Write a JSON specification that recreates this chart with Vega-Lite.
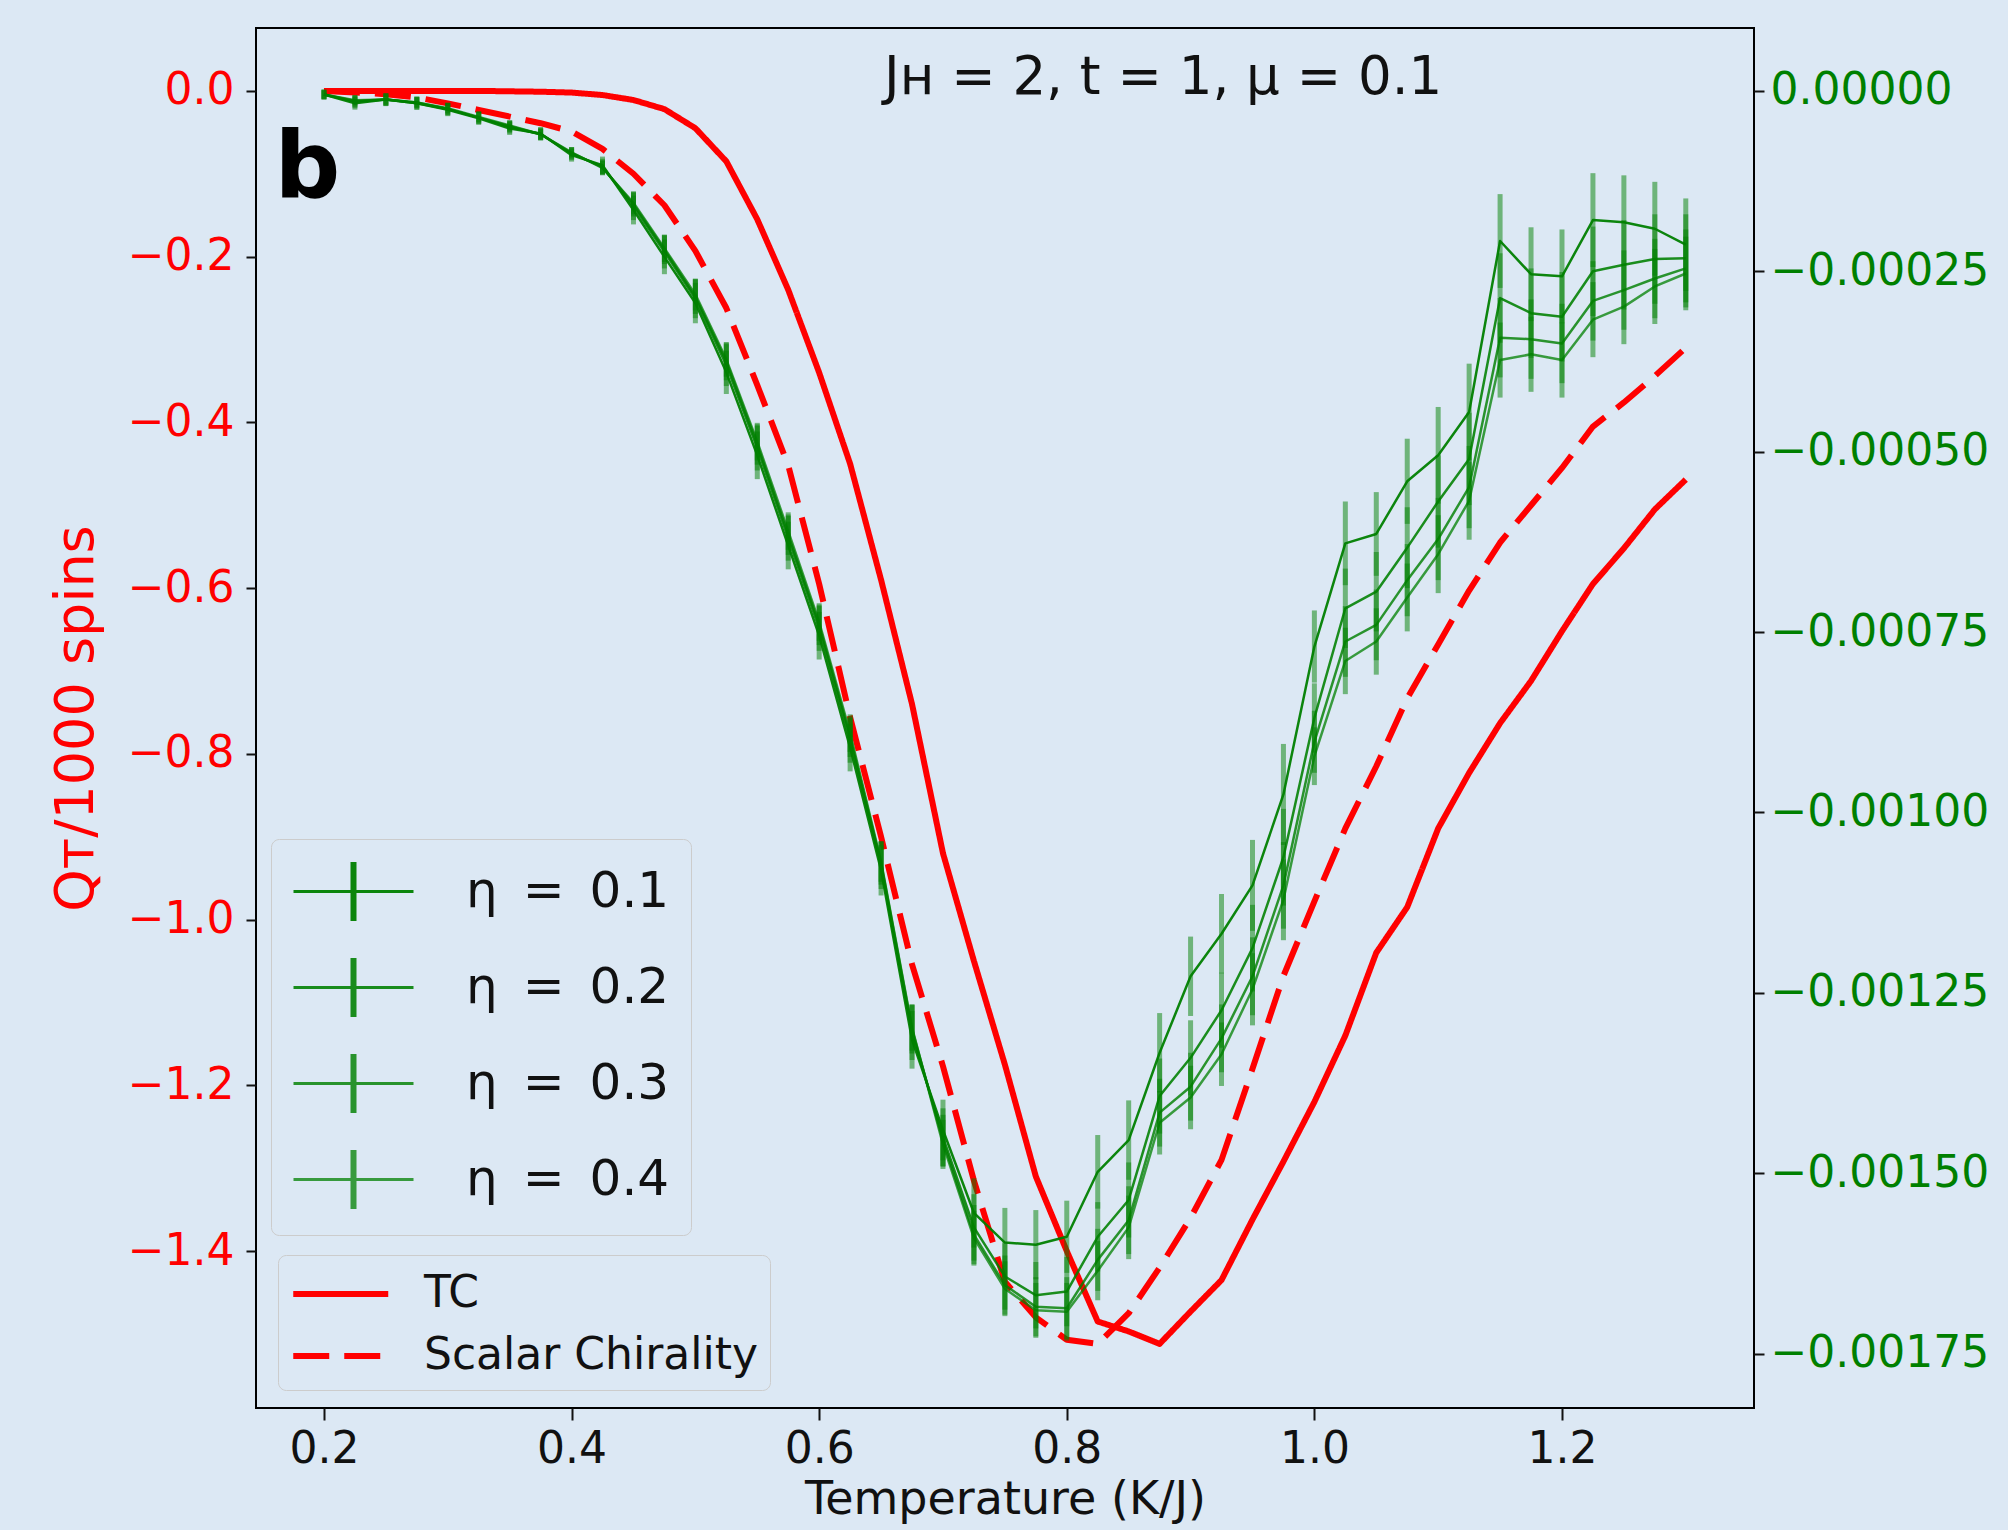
{
  "$schema": "https://vega.github.io/schema/vega-lite/v6.json",
  "width": 1498,
  "height": 1380,
  "autosize": {"type": "none"},
  "padding": {"left": 256, "top": 28, "right": 254, "bottom": 122},
  "background": "#dce8f4",
  "title": {
    "text": "Jʜ = 2, t = 1, μ = 0.1",
    "anchor": "start",
    "frame": "group",
    "dx": 628,
    "offset": -119,
    "baseline": "alphabetic",
    "font": "DejaVu Sans",
    "fontSize": 53,
    "fontWeight": "normal",
    "color": "#111111"
  },
  "datasets": {
    "red": [
      {"T":0.2,"kind":"TC","Q":0},{"T":0.225,"kind":"TC","Q":0},{"T":0.25,"kind":"TC","Q":0},{"T":0.275,"kind":"TC","Q":0},
      {"T":0.3,"kind":"TC","Q":0},{"T":0.325,"kind":"TC","Q":0},{"T":0.35,"kind":"TC","Q":-0.0005},{"T":0.375,"kind":"TC","Q":-0.001},
      {"T":0.4,"kind":"TC","Q":-0.002},{"T":0.425,"kind":"TC","Q":-0.005},{"T":0.45,"kind":"TC","Q":-0.011},{"T":0.475,"kind":"TC","Q":-0.022},
      {"T":0.5,"kind":"TC","Q":-0.045},{"T":0.525,"kind":"TC","Q":-0.085},{"T":0.55,"kind":"TC","Q":-0.155},{"T":0.575,"kind":"TC","Q":-0.24},
      {"T":0.6,"kind":"TC","Q":-0.34},{"T":0.625,"kind":"TC","Q":-0.45},{"T":0.65,"kind":"TC","Q":-0.59},{"T":0.675,"kind":"TC","Q":-0.74},
      {"T":0.7,"kind":"TC","Q":-0.92},{"T":0.725,"kind":"TC","Q":-1.05},{"T":0.75,"kind":"TC","Q":-1.175},{"T":0.775,"kind":"TC","Q":-1.31},
      {"T":0.8,"kind":"TC","Q":-1.4},{"T":0.825,"kind":"TC","Q":-1.485},{"T":0.85,"kind":"TC","Q":-1.497},{"T":0.875,"kind":"TC","Q":-1.512},
      {"T":0.9,"kind":"TC","Q":-1.473},{"T":0.925,"kind":"TC","Q":-1.435},{"T":0.95,"kind":"TC","Q":-1.362},{"T":0.975,"kind":"TC","Q":-1.292},
      {"T":1.0,"kind":"TC","Q":-1.22},{"T":1.025,"kind":"TC","Q":-1.14},{"T":1.05,"kind":"TC","Q":-1.04},{"T":1.075,"kind":"TC","Q":-0.985},
      {"T":1.1,"kind":"TC","Q":-0.89},{"T":1.125,"kind":"TC","Q":-0.823},{"T":1.15,"kind":"TC","Q":-0.763},{"T":1.175,"kind":"TC","Q":-0.712},
      {"T":1.2,"kind":"TC","Q":-0.652},{"T":1.225,"kind":"TC","Q":-0.595},{"T":1.25,"kind":"TC","Q":-0.552},{"T":1.275,"kind":"TC","Q":-0.505},
      {"T":1.3,"kind":"TC","Q":-0.469},
      {"T":0.2,"kind":"Scalar Chirality","Q":0},{"T":0.225,"kind":"Scalar Chirality","Q":-0.002},{"T":0.25,"kind":"Scalar Chirality","Q":-0.004},
      {"T":0.275,"kind":"Scalar Chirality","Q":-0.008},{"T":0.3,"kind":"Scalar Chirality","Q":-0.015},{"T":0.325,"kind":"Scalar Chirality","Q":-0.023},
      {"T":0.35,"kind":"Scalar Chirality","Q":-0.031},{"T":0.375,"kind":"Scalar Chirality","Q":-0.039},{"T":0.4,"kind":"Scalar Chirality","Q":-0.049},
      {"T":0.425,"kind":"Scalar Chirality","Q":-0.07},{"T":0.45,"kind":"Scalar Chirality","Q":-0.1},{"T":0.475,"kind":"Scalar Chirality","Q":-0.138},
      {"T":0.5,"kind":"Scalar Chirality","Q":-0.193},{"T":0.525,"kind":"Scalar Chirality","Q":-0.262},{"T":0.55,"kind":"Scalar Chirality","Q":-0.355},
      {"T":0.575,"kind":"Scalar Chirality","Q":-0.452},{"T":0.6,"kind":"Scalar Chirality","Q":-0.595},{"T":0.625,"kind":"Scalar Chirality","Q":-0.756},
      {"T":0.65,"kind":"Scalar Chirality","Q":-0.9},{"T":0.675,"kind":"Scalar Chirality","Q":-1.054},{"T":0.7,"kind":"Scalar Chirality","Q":-1.177},
      {"T":0.725,"kind":"Scalar Chirality","Q":-1.315},{"T":0.75,"kind":"Scalar Chirality","Q":-1.437},{"T":0.775,"kind":"Scalar Chirality","Q":-1.48},
      {"T":0.8,"kind":"Scalar Chirality","Q":-1.507},{"T":0.825,"kind":"Scalar Chirality","Q":-1.512},{"T":0.85,"kind":"Scalar Chirality","Q":-1.475},
      {"T":0.875,"kind":"Scalar Chirality","Q":-1.42},{"T":0.9,"kind":"Scalar Chirality","Q":-1.36},{"T":0.925,"kind":"Scalar Chirality","Q":-1.29},
      {"T":0.95,"kind":"Scalar Chirality","Q":-1.18},{"T":0.975,"kind":"Scalar Chirality","Q":-1.068},{"T":1.0,"kind":"Scalar Chirality","Q":-0.978},
      {"T":1.025,"kind":"Scalar Chirality","Q":-0.89},{"T":1.05,"kind":"Scalar Chirality","Q":-0.815},{"T":1.075,"kind":"Scalar Chirality","Q":-0.733},
      {"T":1.1,"kind":"Scalar Chirality","Q":-0.668},{"T":1.125,"kind":"Scalar Chirality","Q":-0.603},{"T":1.15,"kind":"Scalar Chirality","Q":-0.545},
      {"T":1.175,"kind":"Scalar Chirality","Q":-0.5},{"T":1.2,"kind":"Scalar Chirality","Q":-0.455},{"T":1.225,"kind":"Scalar Chirality","Q":-0.405},
      {"T":1.25,"kind":"Scalar Chirality","Q":-0.376},{"T":1.275,"kind":"Scalar Chirality","Q":-0.344},{"T":1.3,"kind":"Scalar Chirality","Q":-0.31}
    ],
    "green": [
      {"T":0.2,"eta":"0.1","G":-0.000005,"err":0.000007},{"T":0.225,"eta":"0.1","G":-0.000017,"err":0.000009},{"T":0.25,"eta":"0.1","G":-0.000012,"err":0.000009},
      {"T":0.275,"eta":"0.1","G":-0.000017,"err":0.000009},{"T":0.3,"eta":"0.1","G":-0.000026,"err":0.000009},{"T":0.325,"eta":"0.1","G":-0.000038,"err":0.000009},
      {"T":0.35,"eta":"0.1","G":-0.000052,"err":0.000009},{"T":0.375,"eta":"0.1","G":-0.000059,"err":0.000009},{"T":0.4,"eta":"0.1","G":-0.000089,"err":0.000009},
      {"T":0.425,"eta":"0.1","G":-0.000103,"err":0.000012},{"T":0.45,"eta":"0.1","G":-0.000165,"err":0.00002},{"T":0.475,"eta":"0.1","G":-0.00023,"err":0.000024},
      {"T":0.5,"eta":"0.1","G":-0.000294,"err":0.000028},{"T":0.525,"eta":"0.1","G":-0.00039,"err":0.00003},{"T":0.55,"eta":"0.1","G":-0.000505,"err":0.000033},
      {"T":0.575,"eta":"0.1","G":-0.00063,"err":0.000033},{"T":0.6,"eta":"0.1","G":-0.000755,"err":0.000033},{"T":0.625,"eta":"0.1","G":-0.00091,"err":0.000033},
      {"T":0.65,"eta":"0.1","G":-0.00108,"err":0.000035},{"T":0.675,"eta":"0.1","G":-0.001315,"err":0.00004},{"T":0.7,"eta":"0.1","G":-0.00144,"err":0.000042},
      {"T":0.725,"eta":"0.1","G":-0.001555,"err":0.000048},{"T":0.75,"eta":"0.1","G":-0.001596,"err":0.000048},{"T":0.775,"eta":"0.1","G":-0.001599,"err":0.000048},
      {"T":0.8,"eta":"0.1","G":-0.001588,"err":0.00005},{"T":0.825,"eta":"0.1","G":-0.001498,"err":0.000051},{"T":0.85,"eta":"0.1","G":-0.001454,"err":0.000055},
      {"T":0.875,"eta":"0.1","G":-0.001333,"err":0.000055},{"T":0.9,"eta":"0.1","G":-0.001227,"err":0.000055},{"T":0.925,"eta":"0.1","G":-0.001168,"err":0.000055},
      {"T":0.95,"eta":"0.1","G":-0.001101,"err":0.000063},{"T":0.975,"eta":"0.1","G":-0.000975,"err":0.00007},{"T":1.0,"eta":"0.1","G":-0.00077,"err":0.00005},
      {"T":1.025,"eta":"0.1","G":-0.000627,"err":0.000058},{"T":1.05,"eta":"0.1","G":-0.000614,"err":0.000058},{"T":1.075,"eta":"0.1","G":-0.000541,"err":0.000059},
      {"T":1.1,"eta":"0.1","G":-0.000505,"err":0.000067},{"T":1.125,"eta":"0.1","G":-0.000445,"err":0.000067},{"T":1.15,"eta":"0.1","G":-0.000208,"err":0.000065},
      {"T":1.175,"eta":"0.1","G":-0.000254,"err":0.000065},{"T":1.2,"eta":"0.1","G":-0.000257,"err":0.000065},{"T":1.225,"eta":"0.1","G":-0.000179,"err":0.000065},
      {"T":1.25,"eta":"0.1","G":-0.000182,"err":0.000065},{"T":1.275,"eta":"0.1","G":-0.000191,"err":0.000065},{"T":1.3,"eta":"0.1","G":-0.000213,"err":0.000064},

      {"T":0.2,"eta":"0.2","G":-0.000005,"err":0.000007},{"T":0.225,"eta":"0.2","G":-0.000015,"err":0.000009},{"T":0.25,"eta":"0.2","G":-0.000012,"err":0.000009},
      {"T":0.275,"eta":"0.2","G":-0.000017,"err":0.000009},{"T":0.3,"eta":"0.2","G":-0.000025,"err":0.000009},{"T":0.325,"eta":"0.2","G":-0.000037,"err":0.000009},
      {"T":0.35,"eta":"0.2","G":-0.00005,"err":0.000009},{"T":0.375,"eta":"0.2","G":-0.00006,"err":0.000009},{"T":0.4,"eta":"0.2","G":-0.000087,"err":0.000009},
      {"T":0.425,"eta":"0.2","G":-0.000105,"err":0.000011},{"T":0.45,"eta":"0.2","G":-0.00016,"err":0.000019},{"T":0.475,"eta":"0.2","G":-0.000223,"err":0.000023},
      {"T":0.5,"eta":"0.2","G":-0.000288,"err":0.000027},{"T":0.525,"eta":"0.2","G":-0.00038,"err":0.000029},{"T":0.55,"eta":"0.2","G":-0.000495,"err":0.000031},
      {"T":0.575,"eta":"0.2","G":-0.00062,"err":0.000031},{"T":0.6,"eta":"0.2","G":-0.000745,"err":0.000031},{"T":0.625,"eta":"0.2","G":-0.0009,"err":0.000031},
      {"T":0.65,"eta":"0.2","G":-0.001073,"err":0.000033},{"T":0.675,"eta":"0.2","G":-0.001305,"err":0.000038},{"T":0.7,"eta":"0.2","G":-0.00145,"err":0.00004},
      {"T":0.725,"eta":"0.2","G":-0.001575,"err":0.000046},{"T":0.75,"eta":"0.2","G":-0.001643,"err":0.000046},{"T":0.775,"eta":"0.2","G":-0.001669,"err":0.000046},
      {"T":0.8,"eta":"0.2","G":-0.001664,"err":0.000048},{"T":0.825,"eta":"0.2","G":-0.001588,"err":0.000048},{"T":0.85,"eta":"0.2","G":-0.001537,"err":0.000052},
      {"T":0.875,"eta":"0.2","G":-0.001393,"err":0.000052},{"T":0.9,"eta":"0.2","G":-0.00134,"err":0.000052},{"T":0.925,"eta":"0.2","G":-0.001274,"err":0.000052},
      {"T":0.95,"eta":"0.2","G":-0.001188,"err":0.00006},{"T":0.975,"eta":"0.2","G":-0.001062,"err":0.000067},{"T":1.0,"eta":"0.2","G":-0.000869,"err":0.000048},
      {"T":1.025,"eta":"0.2","G":-0.000717,"err":0.000055},{"T":1.05,"eta":"0.2","G":-0.000694,"err":0.000055},{"T":1.075,"eta":"0.2","G":-0.000633,"err":0.000056},
      {"T":1.1,"eta":"0.2","G":-0.000569,"err":0.000064},{"T":1.125,"eta":"0.2","G":-0.00051,"err":0.000064},{"T":1.15,"eta":"0.2","G":-0.000287,"err":0.000062},
      {"T":1.175,"eta":"0.2","G":-0.000308,"err":0.000062},{"T":1.2,"eta":"0.2","G":-0.000313,"err":0.000062},{"T":1.225,"eta":"0.2","G":-0.00025,"err":0.000062},
      {"T":1.25,"eta":"0.2","G":-0.000241,"err":0.000062},{"T":1.275,"eta":"0.2","G":-0.000233,"err":0.000062},{"T":1.3,"eta":"0.2","G":-0.000232,"err":0.000061},

      {"T":0.2,"eta":"0.3","G":-0.000005,"err":0.000006},{"T":0.225,"eta":"0.3","G":-0.000014,"err":0.000008},{"T":0.25,"eta":"0.3","G":-0.000012,"err":0.000008},
      {"T":0.275,"eta":"0.3","G":-0.000016,"err":0.000008},{"T":0.3,"eta":"0.3","G":-0.000025,"err":0.000008},{"T":0.325,"eta":"0.3","G":-0.000037,"err":0.000008},
      {"T":0.35,"eta":"0.3","G":-0.000049,"err":0.000008},{"T":0.375,"eta":"0.3","G":-0.00006,"err":0.000008},{"T":0.4,"eta":"0.3","G":-0.000086,"err":0.000008},
      {"T":0.425,"eta":"0.3","G":-0.000106,"err":0.00001},{"T":0.45,"eta":"0.3","G":-0.000157,"err":0.000017},{"T":0.475,"eta":"0.3","G":-0.00022,"err":0.00002},
      {"T":0.5,"eta":"0.3","G":-0.000285,"err":0.000024},{"T":0.525,"eta":"0.3","G":-0.000375,"err":0.000026},{"T":0.55,"eta":"0.3","G":-0.00049,"err":0.000028},
      {"T":0.575,"eta":"0.3","G":-0.000615,"err":0.000028},{"T":0.6,"eta":"0.3","G":-0.00074,"err":0.000028},{"T":0.625,"eta":"0.3","G":-0.000895,"err":0.000028},
      {"T":0.65,"eta":"0.3","G":-0.00107,"err":0.00003},{"T":0.675,"eta":"0.3","G":-0.0013,"err":0.000034},{"T":0.7,"eta":"0.3","G":-0.001455,"err":0.000036},
      {"T":0.725,"eta":"0.3","G":-0.001585,"err":0.000041},{"T":0.75,"eta":"0.3","G":-0.001655,"err":0.000041},{"T":0.775,"eta":"0.3","G":-0.001685,"err":0.000041},
      {"T":0.8,"eta":"0.3","G":-0.001687,"err":0.000043},{"T":0.825,"eta":"0.3","G":-0.00162,"err":0.000043},{"T":0.85,"eta":"0.3","G":-0.001565,"err":0.000047},
      {"T":0.875,"eta":"0.3","G":-0.001416,"err":0.000047},{"T":0.9,"eta":"0.3","G":-0.00138,"err":0.000047},{"T":0.925,"eta":"0.3","G":-0.001313,"err":0.000047},
      {"T":0.95,"eta":"0.3","G":-0.001227,"err":0.000054},{"T":0.975,"eta":"0.3","G":-0.001101,"err":0.00006},{"T":1.0,"eta":"0.3","G":-0.000902,"err":0.000043},
      {"T":1.025,"eta":"0.3","G":-0.000763,"err":0.000049},{"T":1.05,"eta":"0.3","G":-0.00074,"err":0.000049},{"T":1.075,"eta":"0.3","G":-0.000678,"err":0.00005},
      {"T":1.1,"eta":"0.3","G":-0.000621,"err":0.000057},{"T":1.125,"eta":"0.3","G":-0.000549,"err":0.000057},{"T":1.15,"eta":"0.3","G":-0.000342,"err":0.000055},
      {"T":1.175,"eta":"0.3","G":-0.000344,"err":0.000055},{"T":1.2,"eta":"0.3","G":-0.00035,"err":0.000055},{"T":1.225,"eta":"0.3","G":-0.000291,"err":0.000055},
      {"T":1.25,"eta":"0.3","G":-0.000276,"err":0.000055},{"T":1.275,"eta":"0.3","G":-0.00026,"err":0.000055},{"T":1.3,"eta":"0.3","G":-0.000246,"err":0.000054},

      {"T":0.2,"eta":"0.4","G":-0.000005,"err":0.000006},{"T":0.225,"eta":"0.4","G":-0.000013,"err":0.000007},{"T":0.25,"eta":"0.4","G":-0.000012,"err":0.000007},
      {"T":0.275,"eta":"0.4","G":-0.000016,"err":0.000007},{"T":0.3,"eta":"0.4","G":-0.000024,"err":0.000007},{"T":0.325,"eta":"0.4","G":-0.000036,"err":0.000007},
      {"T":0.35,"eta":"0.4","G":-0.000048,"err":0.000007},{"T":0.375,"eta":"0.4","G":-0.00006,"err":0.000007},{"T":0.4,"eta":"0.4","G":-0.000085,"err":0.000007},
      {"T":0.425,"eta":"0.4","G":-0.000107,"err":0.00001},{"T":0.45,"eta":"0.4","G":-0.000155,"err":0.000016},{"T":0.475,"eta":"0.4","G":-0.000218,"err":0.000019},
      {"T":0.5,"eta":"0.4","G":-0.000282,"err":0.000022},{"T":0.525,"eta":"0.4","G":-0.000372,"err":0.000024},{"T":0.55,"eta":"0.4","G":-0.000486,"err":0.000026},
      {"T":0.575,"eta":"0.4","G":-0.00061,"err":0.000026},{"T":0.6,"eta":"0.4","G":-0.000736,"err":0.000026},{"T":0.625,"eta":"0.4","G":-0.00089,"err":0.000026},
      {"T":0.65,"eta":"0.4","G":-0.001068,"err":0.000028},{"T":0.675,"eta":"0.4","G":-0.001298,"err":0.000032},{"T":0.7,"eta":"0.4","G":-0.00146,"err":0.000034},
      {"T":0.725,"eta":"0.4","G":-0.00159,"err":0.000038},{"T":0.75,"eta":"0.4","G":-0.00166,"err":0.000038},{"T":0.775,"eta":"0.4","G":-0.00169,"err":0.000038},
      {"T":0.8,"eta":"0.4","G":-0.001692,"err":0.00004},{"T":0.825,"eta":"0.4","G":-0.001635,"err":0.000041},{"T":0.85,"eta":"0.4","G":-0.001575,"err":0.000044},
      {"T":0.875,"eta":"0.4","G":-0.00143,"err":0.000044},{"T":0.9,"eta":"0.4","G":-0.001395,"err":0.000044},{"T":0.925,"eta":"0.4","G":-0.001335,"err":0.000044},
      {"T":0.95,"eta":"0.4","G":-0.001245,"err":0.00005},{"T":0.975,"eta":"0.4","G":-0.001121,"err":0.000056},{"T":1.0,"eta":"0.4","G":-0.000922,"err":0.00004},
      {"T":1.025,"eta":"0.4","G":-0.00079,"err":0.000046},{"T":1.05,"eta":"0.4","G":-0.000763,"err":0.000046},{"T":1.075,"eta":"0.4","G":-0.000702,"err":0.000047},
      {"T":1.1,"eta":"0.4","G":-0.000642,"err":0.000054},{"T":1.125,"eta":"0.4","G":-0.000568,"err":0.000054},{"T":1.15,"eta":"0.4","G":-0.000373,"err":0.000052},
      {"T":1.175,"eta":"0.4","G":-0.000365,"err":0.000052},{"T":1.2,"eta":"0.4","G":-0.000373,"err":0.000052},{"T":1.225,"eta":"0.4","G":-0.000317,"err":0.000052},
      {"T":1.25,"eta":"0.4","G":-0.000299,"err":0.000052},{"T":1.275,"eta":"0.4","G":-0.000271,"err":0.000052},{"T":1.3,"eta":"0.4","G":-0.000253,"err":0.000051}
    ]
  },
  "layer": [
    {
      "data": {"name": "red"},
      "mark": {"type": "line", "color": "#ff0000", "strokeWidth": 6, "strokeJoin": "round"},
      "encoding": {
        "x": {
          "field": "T",
          "type": "quantitative",
          "scale": {"domain": [0.1451, 1.3551], "nice": false, "zero": false},
          "axis": {
            "values": [0.2, 0.4, 0.6, 0.8, 1.0, 1.2],
            "format": ".1f",
            "title": "Temperature (K/J)",
            "titleFontSize": 46,
            "titlePadding": 6,
            "titleColor": "#111111",
            "labelColor": "#111111",
            "tickSize": 12,
            "labelPadding": 7
          }
        },
        "y": {
          "field": "Q",
          "type": "quantitative",
          "scale": {"domain": [-1.5894, 0.0759], "nice": false, "zero": false},
          "axis": {
            "orient": "left",
            "values": [0, -0.2, -0.4, -0.6, -0.8, -1.0, -1.2, -1.4],
            "format": ".1f",
            "labelColor": "#ff0000",
            "title": "Qᴛ/1000 spins",
            "titleColor": "#ff0000",
            "titleFontSize": 54,
            "titlePadding": 24,
            "tickSize": 10,
            "labelPadding": 12
          }
        },
        "strokeDash": {
          "field": "kind",
          "type": "nominal",
          "scale": {"domain": ["TC", "Scalar Chirality"], "range": [[1, 0], [36, 15]]},
          "legend": {
            "title": null,
            "orient": "none",
            "legendX": 22,
            "legendY": 1227,
            "symbolType": "M-1,0H3",
            "symbolSize": 2256,
            "symbolStrokeWidth": 6,
            "symbolStrokeColor": "#ff0000",
            "labelFontSize": 44,
            "labelOffset": 80,
            "labelLimit": 1000,
            "rowPadding": 13,
            "padding": 12,
            "strokeColor": "#cccccc",
            "fillColor": "#dce8f4",
            "cornerRadius": 8,
            "labelColor": "#111111"
          }
        }
      }
    },
    {
      "data": {"name": "green"},
      "encoding": {
        "x": {"field": "T", "type": "quantitative"},
        "y": {
          "field": "G",
          "type": "quantitative",
          "scale": {"domain": [-0.0018253, 0.0000872], "nice": false, "zero": false},
          "axis": {
            "orient": "right",
            "values": [0, -0.00025, -0.0005, -0.00075, -0.001, -0.00125, -0.0015, -0.00175],
            "format": ".5f",
            "labelColor": "#008000",
            "labelLimit": 1000,
            "title": "b",
            "titleX": -1480,
            "titleY": 169,
            "titleAngle": 0,
            "titleAlign": "left",
            "titleBaseline": "alphabetic",
            "titleFont": "DejaVu Sans",
            "titleFontSize": 92,
            "titleFontWeight": "bold",
            "titleColor": "#000000",
            "tickSize": 10,
            "labelPadding": 6
          }
        }
      },
      "layer": [
        {
          "mark": {"type": "errorbar", "thickness": 5, "color": "#008000", "opacity": 0.5},
          "encoding": {"yError": {"field": "err"}}
        },
        {
          "mark": {"type": "line", "strokeWidth": 2.5, "strokeJoin": "round"},
          "encoding": {
            "color": {
              "field": "eta",
              "type": "ordinal",
              "scale": {"domain": ["0.1", "0.2", "0.3", "0.4"], "range": ["#008000", "#008000", "#008000", "#008000"]},
              "legend": {
                "title": null,
                "orient": "none",
                "legendX": 15,
                "legendY": 811,
                "symbolType": "M-1,0H3M0.95,-0.93H1.05V0.93H0.95Z",
                "symbolSize": 3600,
                "symbolStrokeWidth": 3,
                "labelFontSize": 50,
                "labelOffset": 111,
                "labelLimit": 1000,
                "rowPadding": 27,
                "padding": 21,
                "strokeColor": "#cccccc",
                "fillColor": "#dce8f4",
                "cornerRadius": 8,
                "labelColor": "#111111",
                "labelExpr": "'η\u2002=\u2002' + datum.label"
              }
            },
            "opacity": {
              "field": "eta",
              "type": "ordinal",
              "scale": {"domain": ["0.1", "0.2", "0.3", "0.4"], "range": [0.95, 0.75, 0.55, 0.35]},
              "legend": {
                "title": null,
                "orient": "none",
                "legendX": 15,
                "legendY": 811,
                "symbolType": "M-1,0H3M0.95,-0.93H1.05V0.93H0.95Z",
                "symbolSize": 3600,
                "symbolStrokeWidth": 3,
                "labelFontSize": 50,
                "labelOffset": 111,
                "labelLimit": 1000,
                "rowPadding": 27,
                "padding": 21,
                "strokeColor": "#cccccc",
                "fillColor": "#dce8f4",
                "cornerRadius": 8,
                "labelColor": "#111111",
                "labelExpr": "'η\u2002=\u2002' + datum.label"
              }
            }
          }
        }
      ]
    }
  ],
  "resolve": {"scale": {"y": "independent"}, "axis": {"y": "independent"}},
  "config": {
    "font": "DejaVu Sans",
    "view": {"stroke": "#000000", "strokeWidth": 2, "fill": "#dce8f4"},
    "axis": {
      "domain": false,
      "grid": false,
      "tickColor": "#111111",
      "tickWidth": 2,
      "labelFont": "DejaVu Sans",
      "labelFontSize": 44,
      "titleFont": "DejaVu Sans",
      "titleFontWeight": "normal",
      "labelFlush": false,
      "labelOverlap": false
    },
    "legend": {"labelFont": "DejaVu Sans"}
  }
}
